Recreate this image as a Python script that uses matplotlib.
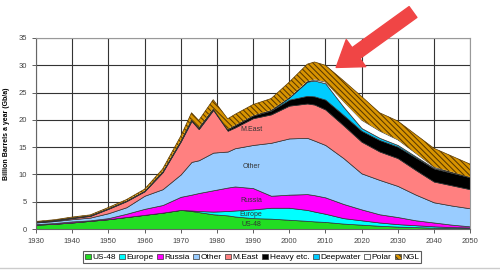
import numpy as np
import matplotlib
matplotlib.use("Agg")
import matplotlib.pyplot as plt
from matplotlib.lines import Line2D

plt.rcParams['font.family'] = ['Liberation Sans', 'DejaVu Sans']
plt.rcParams['hatch.linewidth'] = 0.75

# Jahre und Schichten (Gb/a), von unten nach oben
years = [1930, 1935, 1940, 1945, 1950, 1955, 1960, 1965, 1970, 1973, 1975, 1979,
         1983, 1985, 1990, 1995, 2000, 2005, 2007, 2010, 2015, 2020, 2025, 2030,
         2035, 2040, 2045, 2050]

us48 = [0.8, 0.95, 1.2, 1.5, 1.8, 2.2, 2.6, 3.0, 3.5, 3.3, 3.1, 2.7,
        2.5, 2.3, 2.0, 1.9, 1.7, 1.5, 1.4, 1.3, 1.0, 0.8, 0.6, 0.45,
        0.35, 0.25, 0.2, 0.15]
europe = [0, 0, 0, 0, 0, 0, 0, 0, 0, 0.1, 0.2, 0.5,
          0.8, 1.1, 1.6, 2.0, 2.2, 2.0, 1.8, 1.5, 1.0, 0.8, 0.6, 0.45,
          0.35, 0.25, 0.15, 0.15]
russia = [0.1, 0.15, 0.2, 0.1, 0.2, 0.6, 1.1, 1.4, 2.4, 2.9, 3.3, 3.9,
          4.3, 4.4, 3.9, 2.2, 2.4, 2.9, 3.0, 3.0, 2.6, 2.0, 1.5, 1.3,
          0.9, 0.7, 0.45, 0.2]
other = [0.3, 0.35, 0.4, 0.5, 0.9, 1.2, 2.4, 2.9, 4.1, 6.0, 6.0, 6.9,
         6.6, 7.0, 7.9, 9.7, 10.3, 10.3, 10.0, 9.6, 8.4, 6.6, 6.3, 5.7,
         4.7, 3.7, 3.5, 3.3]
meast = [0.05, 0.1, 0.2, 0.3, 0.8, 1.1, 0.8, 3.1, 6.0, 7.5, 5.7, 7.8,
         3.8, 3.8, 4.9, 5.2, 6.0, 6.3, 6.6, 6.5, 6.0, 5.8, 5.2, 5.1,
         4.5, 3.8, 3.7, 3.5]
heavy = [0.1, 0.1, 0.1, 0.1, 0.1, 0.1, 0.1, 0.15, 0.2, 0.3, 0.3, 0.3,
         0.3, 0.4, 0.5, 0.7, 1.1, 1.4, 1.5, 1.8, 1.9, 2.0, 2.1, 2.1,
         2.3, 2.4, 2.3, 2.2]
deepwater = [0, 0, 0, 0, 0, 0, 0, 0, 0, 0, 0, 0,
             0, 0, 0, 0.1, 0.4, 2.6, 2.9, 3.0, 1.5, 0.5, 0.4, 0.3,
             0.2, 0.1, 0.05, 0.0]
polar = [0, 0, 0, 0, 0, 0, 0, 0, 0, 0, 0, 0,
         0, 0, 0, 0, 0, 0.1, 0.2, 0.3, 1.0, 1.5, 1.3, 1.0,
         0.6, 0.2, 0.1, 0.0]
ngl = [0.05, 0.05, 0.1, 0.1, 0.15, 0.2, 0.3, 0.45, 0.8, 1.2, 1.3, 1.6,
       1.9, 2.0, 2.0, 2.1, 2.8, 3.1, 3.2, 3.0, 3.8, 4.3, 3.3, 3.4,
       3.4, 3.4, 2.9, 2.4]

labels = ["US-48", "Europe", "Russia", "Other", "M.East", "Heavy etc.",
          "Deepwater", "Polar", "NGL"]
colors = ["#22dd22", "#00ffff", "#ff00ff", "#99ccff", "#ff8080", "#000000",
          "#00ccff", "#ffffff", "#d89400"]

layers = [us48, europe, russia, other, meast, heavy, deepwater, polar, ngl]

fig = plt.figure(figsize=(5.0, 2.73), dpi=100)
ax = fig.add_axes([0.072, 0.161, 0.868, 0.70])

x = np.array(years)
bottom = np.zeros(len(years))
handles = []
for lab, col, vals in zip(labels, colors, layers):
    top = bottom + np.array(vals)
    if lab == "NGL":
        h = ax.fill_between(x, bottom, top, facecolor=col, edgecolor="#5a3800",
                            hatch="\\\\\\\\\\\\", linewidth=0)
        ax.plot(x, top, color="#5a3800", lw=0.5)
    else:
        h = ax.fill_between(x, bottom, top, facecolor=col,
                            edgecolor="#333333", linewidth=0.5)
    handles.append(h)
    bottom = top

ax.set_xlim(1930, 2050)
ax.set_ylim(0, 35)
ax.set_xticks(range(1930, 2051, 10))
ax.set_yticks(range(0, 36, 5))
ax.grid(True, color="#333333", linewidth=0.8)
ax.set_axisbelow(True)
ax.tick_params(labelsize=5.5, colors="#444444", length=3, width=0.6)
for s in ["top", "right"]:
    ax.spines[s].set_color("#999999")
for s in ["left", "bottom"]:
    ax.spines[s].set_color("#666666")
ax.set_ylabel("Billion Barrels a year (Gb/a)", fontsize=5, fontweight="bold",
              labelpad=6)

# Beschriftungen im Diagramm
for txt, yv in [("M.East", 18.3), ("Other", 11.4), ("Russia", 5.2),
                ("Europe", 2.6), ("US-48", 0.9)]:
    ax.text(1989.5, yv, txt, fontsize=5, ha="center", va="center",
            color="#333333")

# roter Pfeil auf das Maximum
ax.annotate("", xy=(2013, 29.6), xycoords="data",
            xytext=(0.826, 0.956), textcoords="figure fraction",
            arrowprops=dict(arrowstyle="simple,head_length=1.1,head_width=1.5,tail_width=0.6",
                            color="#f04545", shrinkA=0, shrinkB=0,
                            mutation_scale=16),
            annotation_clip=False)

leg = fig.legend(handles, labels, loc="center", bbox_to_anchor=(0.504, 0.057),
                 ncol=9, fontsize=6.0, frameon=True, fancybox=False,
                 handlelength=0.7, handleheight=0.7, handletextpad=0.2,
                 columnspacing=0.4, borderpad=0.25, borderaxespad=0,
                 edgecolor="#333333")
leg.get_frame().set_linewidth(0.8)
for h in leg.legend_handles:
    h.set_edgecolor("#333333")
    h.set_linewidth(0.5)

fig.add_artist(Line2D([0, 1], [0.018, 0.018], transform=fig.transFigure,
                      color="#cccccc", lw=1))

fig.savefig("out.png", dpi=100)
